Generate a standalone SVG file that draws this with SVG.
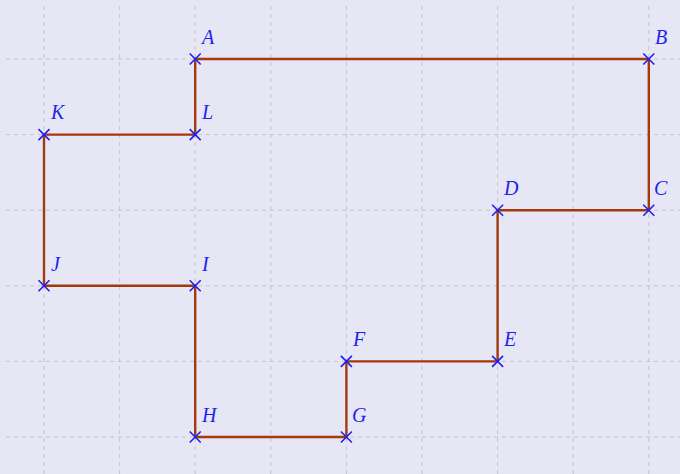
<svg xmlns="http://www.w3.org/2000/svg" width="680" height="474" viewBox="0 0 680 474">
<defs>
<style>
.grid line{stroke:#c4c4cc;stroke-width:1;stroke-dasharray:4 4}
.edge{stroke:#a33a0c;stroke-width:2.4;fill:none;stroke-linejoin:miter}
.pt path{stroke:#1f1ff0;stroke-width:1.6;fill:none}
.pt text{font-family:"Liberation Serif",serif;font-style:italic;font-size:20px;fill:#1f1ff0}
</style>
</defs>
<rect width="680" height="474" fill="#e6e6f5"/>
<g class="grid">
<line x1="44" y1="6" x2="44" y2="474"/>
<line x1="119.6" y1="6" x2="119.6" y2="474"/>
<line x1="195.2" y1="6" x2="195.2" y2="474"/>
<line x1="270.8" y1="6" x2="270.8" y2="474"/>
<line x1="346.4" y1="6" x2="346.4" y2="474"/>
<line x1="422" y1="6" x2="422" y2="474"/>
<line x1="497.6" y1="6" x2="497.6" y2="474"/>
<line x1="573.2" y1="6" x2="573.2" y2="474"/>
<line x1="648.8" y1="6" x2="648.8" y2="474"/>
<line x1="6" y1="59" x2="680" y2="59"/>
<line x1="6" y1="134.6" x2="680" y2="134.6"/>
<line x1="6" y1="210.2" x2="680" y2="210.2"/>
<line x1="6" y1="285.8" x2="680" y2="285.8"/>
<line x1="6" y1="361.4" x2="680" y2="361.4"/>
<line x1="6" y1="437" x2="680" y2="437"/>
</g>
<g id="connectors">
<path class="edge" d="M195.2 59 H648.8 V210.2 H497.6 V361.4 H346.4 V437 H195.2 V285.8 H44 V134.6 H195.2 Z"/>
</g>
<g id="A" class="pt"><path d="M189.7 53.5 l11 11 M189.7 64.5 l11 -11"/><text x="202" y="44">A</text></g>
<g id="B" class="pt"><path d="M643.3 53.5 l11 11 M643.3 64.5 l11 -11"/><text x="655" y="44">B</text></g>
<g id="C" class="pt"><path d="M643.3 204.7 l11 11 M643.3 215.7 l11 -11"/><text x="654" y="195">C</text></g>
<g id="D" class="pt"><path d="M492.1 204.7 l11 11 M492.1 215.7 l11 -11"/><text x="504" y="195">D</text></g>
<g id="E" class="pt"><path d="M492.1 355.9 l11 11 M492.1 366.9 l11 -11"/><text x="504" y="346">E</text></g>
<g id="F" class="pt"><path d="M340.9 355.9 l11 11 M340.9 366.9 l11 -11"/><text x="353" y="346">F</text></g>
<g id="G" class="pt"><path d="M340.9 431.5 l11 11 M340.9 442.5 l11 -11"/><text x="352" y="422">G</text></g>
<g id="H" class="pt"><path d="M189.7 431.5 l11 11 M189.7 442.5 l11 -11"/><text x="202" y="422">H</text></g>
<g id="I" class="pt"><path d="M189.7 280.3 l11 11 M189.7 291.3 l11 -11"/><text x="202" y="271">I</text></g>
<g id="J" class="pt"><path d="M38.5 280.3 l11 11 M38.5 291.3 l11 -11"/><text x="51" y="271">J</text></g>
<g id="K" class="pt"><path d="M38.5 129.1 l11 11 M38.5 140.1 l11 -11"/><text x="51" y="119">K</text></g>
<g id="L" class="pt"><path d="M189.7 129.1 l11 11 M189.7 140.1 l11 -11"/><text x="202" y="119">L</text></g>
</svg>
